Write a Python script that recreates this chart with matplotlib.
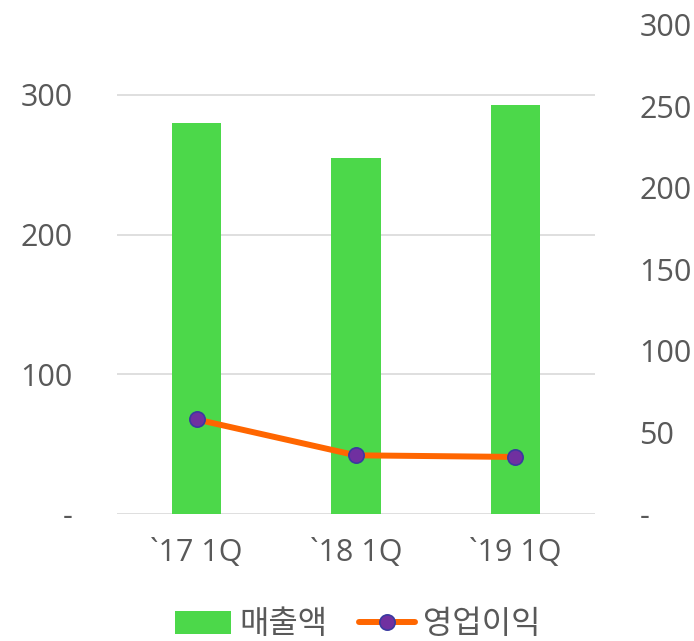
import matplotlib
matplotlib.use("Agg")
import matplotlib.pyplot as plt
from matplotlib.ticker import FixedLocator, FuncFormatter

plt.rcParams['font.family'] = ['Open Sans', 'Noto Sans CJK KR', 'DejaVu Sans']

categories = ["`17 1Q", "`18 1Q", "`19 1Q"]
sales = [280, 255, 293]
op_profit = [58, 36, 35]
left_ticks = [0, 100, 200, 300]
right_ticks = [0, 50, 100, 150, 200, 250, 300]

txt = '#595959'
fs = 22

fig = plt.figure(figsize=(6.94, 6.41), dpi=100)
ax = fig.add_axes([117/694, 1-514/641, 478/694, 489/641])
ax2 = ax.twinx()

x = list(range(len(categories)))
ax.bar(x, sales, width=0.31, color='#4CD84A', zorder=2, label='매출액')
ax.set_xlim(-0.5, 2.5)
ax.set_ylim(0, 350)
ax.yaxis.set_major_locator(FixedLocator(left_ticks))
ax.yaxis.set_major_formatter(FuncFormatter(lambda v, p: '-' if v == 0 else f'{int(v)}'))
ax.grid(axis='y', color='#d9d9d9', linewidth=1.2, zorder=0)
ax.set_axisbelow(True)
ax.set_xticks(x)
ax.set_xticklabels(categories)
for s in ax.spines.values():
    s.set_visible(False)
for s in ax2.spines.values():
    s.set_visible(False)
ax.tick_params(axis='y', length=0, pad=32, labelsize=fs, labelcolor=txt)
ax.tick_params(axis='x', length=0, pad=17, labelsize=fs, labelcolor=txt)

ax2.plot(x, op_profit, color='#FF6600', linewidth=4.3, marker='o', markersize=11,
         markerfacecolor='#7030A0', markeredgecolor='#3A3AA0', markeredgewidth=1.2,
         zorder=3, label='영업이익', solid_capstyle='round')
ax2.set_ylim(0, 300)
ax2.yaxis.set_major_locator(FixedLocator(right_ticks))
ax2.yaxis.set_major_formatter(FuncFormatter(lambda v, p: '-' if v == 0 else f'{int(v)}'))
ax2.tick_params(axis='y', length=0, pad=32, labelsize=fs, labelcolor=txt)

h1, l1 = ax.get_legend_handles_labels()
h2, l2 = ax2.get_legend_handles_labels()
leg = fig.legend(h1 + h2, l1 + l2, loc='center', bbox_to_anchor=(358/694, 1-625/641),
                 ncol=2, frameon=False, fontsize=23, labelcolor=txt,
                 handlelength=1.75, handletextpad=0.25, columnspacing=1.0,
                 borderpad=0, borderaxespad=0)

fig.savefig('out.png', dpi=100)
